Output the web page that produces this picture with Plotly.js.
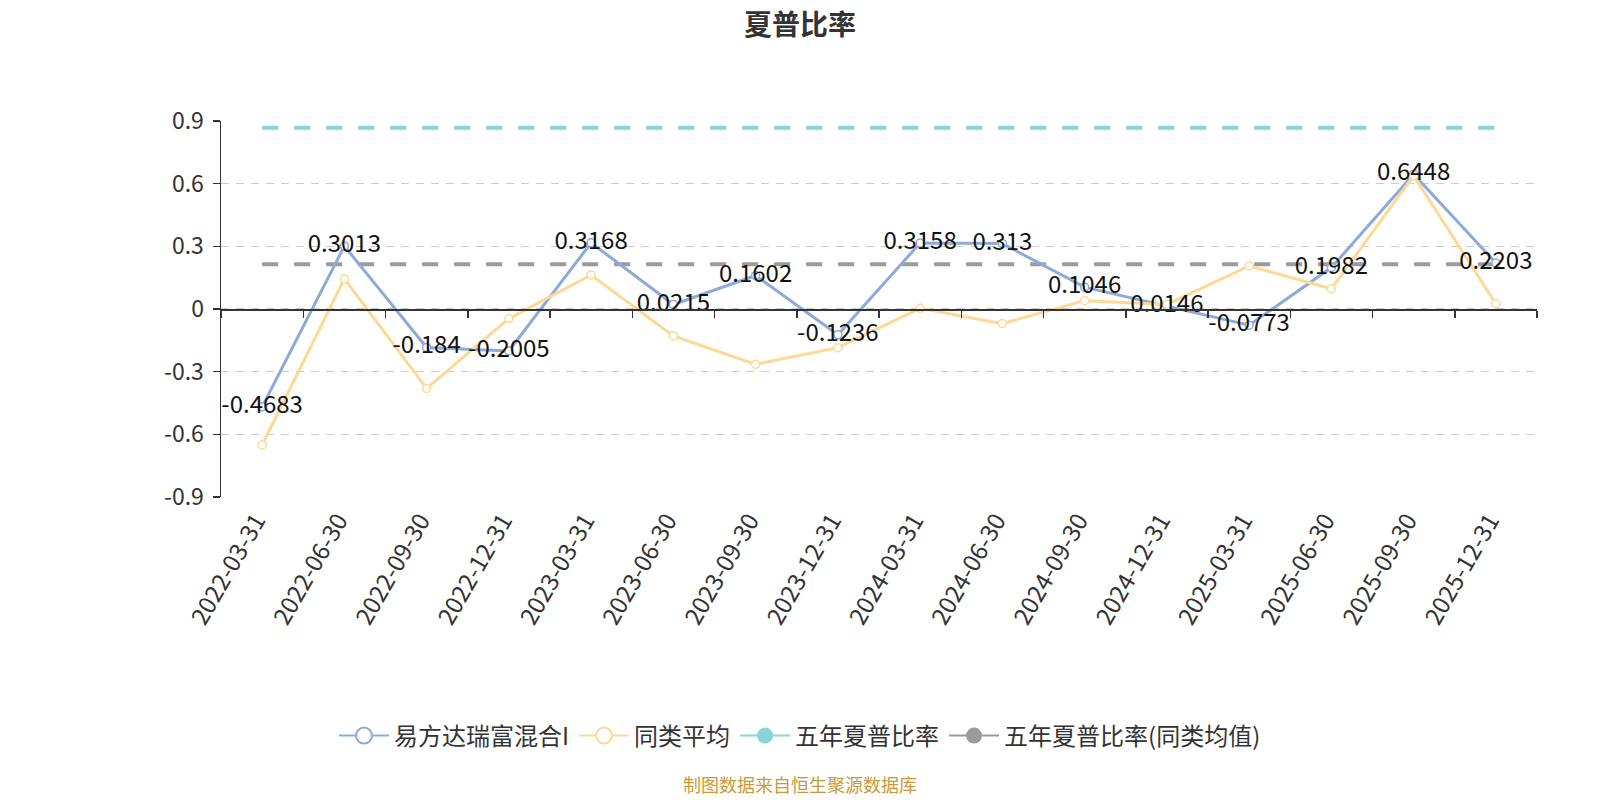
<!DOCTYPE html>
<html>
<head>
<meta charset="utf-8">
<script src="https://cdn.plot.ly/plotly-3.0.1.min.js"></script>
<style>html,body{margin:0;padding:0;background:#fff;}#chart{width:1600px;height:800px;}</style>
</head>
<body>
<div id="chart"></div>
<script>
const categories = ['2022-03-31','2022-06-30','2022-09-30','2022-12-31','2023-03-31','2023-06-30','2023-09-30','2023-12-31','2024-03-31','2024-06-30','2024-09-30','2024-12-31','2025-03-31','2025-06-30','2025-09-30','2025-12-31'];
const fundSharpe = [-0.4683, 0.3013, -0.184, -0.2005, 0.3168, 0.0215, 0.1602, -0.1236, 0.3158, 0.313, 0.1046, 0.0146, -0.0773, 0.1982, 0.6448, 0.2203];
const peerAvg = [-0.651, 0.144, -0.380, -0.046, 0.163, -0.129, -0.265, -0.185, 0.003, -0.070, 0.040, 0.022, 0.206, 0.097, 0.638, 0.025];
const fiveYearSharpe = categories.map(() => 0.868);
const fiveYearPeerSharpe = categories.map(() => 0.214);
const yTickVals = [-0.9, -0.6, -0.3, 0, 0.3, 0.6, 0.9];
const yTickText = ['-0.9', '-0.6', '-0.3', '0', '0.3', '0.6', '0.9'];
const seriesNames = ['易方达瑞富混合I', '同类平均', '五年夏普比率', '五年夏普比率(同类均值)'];

const BLUE = '#8eaadb', YELLOW = '#fdd995', TEAL = '#88d5d8', GRAY = '#9b9b9b';
const FONT = '"Noto Sans CJK SC", "Microsoft YaHei", sans-serif';
const nulls = categories.map(() => null);

const traces = [
  {x: categories, y: fiveYearSharpe, type: 'scatter', mode: 'lines', line: {color: TEAL, width: 4, dash: '16px,16px'}, showlegend: false, hoverinfo: 'skip'},
  {x: categories, y: fiveYearPeerSharpe, type: 'scatter', mode: 'lines', line: {color: GRAY, width: 4, dash: '16px,16px'}, showlegend: false, hoverinfo: 'skip'},
  {x: categories, y: fundSharpe, type: 'scatter', mode: 'lines+markers', line: {color: BLUE, width: 3}, marker: {symbol: 'circle', size: 8, color: '#fff', line: {color: BLUE, width: 1.5}}, showlegend: false, cliponaxis: false},
  {x: categories, y: peerAvg, type: 'scatter', mode: 'lines+markers', line: {color: YELLOW, width: 3}, marker: {symbol: 'circle', size: 8, color: '#fff', line: {color: YELLOW, width: 1.5}}, showlegend: false, cliponaxis: false},
  {x: categories, y: fundSharpe, type: 'scatter', mode: 'text', text: fundSharpe.map(String), textposition: 'middle center', textfont: {family: FONT, size: 24, color: '#111'}, showlegend: false, hoverinfo: 'skip', cliponaxis: false},
  // zero-line axis with boundary ticks
  {x: categories, y: fundSharpe, xaxis: 'x2', type: 'scatter', mode: 'lines', opacity: 0, showlegend: false, hoverinfo: 'skip'},
  // legend entries
  {x: categories, y: nulls, type: 'scatter', mode: 'lines+markers', name: seriesNames[0], line: {color: BLUE, width: 2}, marker: {symbol: 'circle', size: 20, color: '#fff', line: {color: BLUE, width: 2}}},
  {x: categories, y: nulls, type: 'scatter', mode: 'lines+markers', name: seriesNames[1], line: {color: YELLOW, width: 2}, marker: {symbol: 'circle', size: 20, color: '#fff', line: {color: YELLOW, width: 2}}},
  {x: categories, y: nulls, type: 'scatter', mode: 'lines+markers', name: seriesNames[2], line: {color: TEAL, width: 2}, marker: {symbol: 'circle', size: 20, color: TEAL, line: {color: TEAL, width: 0}}},
  {x: categories, y: nulls, type: 'scatter', mode: 'lines+markers', name: seriesNames[3], line: {color: GRAY, width: 2}, marker: {symbol: 'circle', size: 20, color: GRAY, line: {color: GRAY, width: 0}}}
];

const layout = {
  width: 1600, height: 800,
  margin: {l: 221, r: 63, t: 121, b: 303, pad: 0},
  paper_bgcolor: '#fff', plot_bgcolor: '#fff',
  font: {family: FONT, color: '#333'},
  title: {text: '夏普比率', font: {family: FONT, size: 28, color: '#333', weight: 'bold'}, x: 0.5, xref: 'container', xanchor: 'center', y: 1 - 25/800, yref: 'container', yanchor: 'middle'},
  xaxis: {
    type: 'category', categoryarray: categories, range: [-0.5, 15.5],
    showline: false, ticks: '', showgrid: false, zeroline: false,
    tickangle: -60, tickfont: {family: FONT, size: 24, color: '#333'},
    ticklabelstandoff: 4, ticklabelshift: -6
  },
  xaxis2: {
    type: 'category', categoryarray: categories, range: [-0.5, 15.5],
    overlaying: 'x', anchor: 'free', position: 0.5,
    showline: true, linecolor: '#333', linewidth: 1.5,
    ticks: 'outside', tickson: 'boundaries', ticklen: 7, tickcolor: '#333', tickwidth: 1.5,
    showticklabels: false, showgrid: false, zeroline: false
  },
  yaxis: {
    range: [-0.9, 0.9], tickmode: 'array', tickvals: yTickVals, ticktext: yTickText,
    showline: true, linecolor: '#333', linewidth: 1.5,
    ticks: 'outside', ticklen: 7, tickcolor: '#333', tickwidth: 1.5,
    showgrid: true, gridcolor: '#cccccc', gridwidth: 1.2, griddash: '8px,7px',
    zeroline: false, tickfont: {family: FONT, size: 23, color: '#333'},
    ticklabelstandoff: 4
  },
  legend: {
    orientation: 'h', x: (800 - 221) / 1316, xanchor: 'center', xref: 'paper',
    y: (497 - 736) / 376, yanchor: 'middle', yref: 'paper',
    font: {family: FONT, size: 24, color: '#333'}, itemwidth: 50, tracegroupgap: 0
  },
  annotations: [{
    text: '制图数据来自恒生聚源数据库', xref: 'paper', yref: 'paper',
    x: (800 - 221) / 1316, y: (497 - 784) / 376, xanchor: 'center', yanchor: 'middle',
    showarrow: false, font: {family: FONT, size: 18, color: '#c9993a'}
  }],
  showlegend: true
};

Plotly.newPlot('chart', traces, layout, {displayModeBar: false, staticPlot: true});
</script>
</body>
</html>
